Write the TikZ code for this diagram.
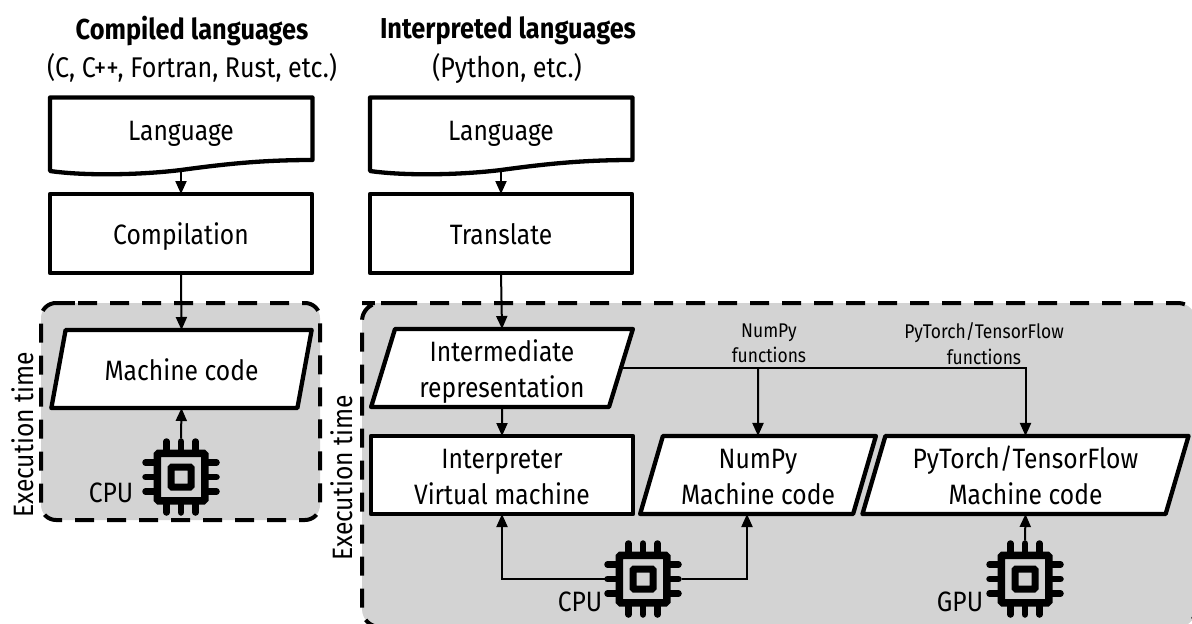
\documentclass[tikz,border=0pt]{standalone}
\usepackage{fontspec}
\setmainfont[FakeStretch=0.88]{Fira Sans}
\usetikzlibrary{arrows.meta,shapes.geometric}
\definecolor{regiongray}{HTML}{D3D3D3}
\tikzset{
  x=1pt,y=-1pt,
  txt/.style={font=\fontsize{28}{36}\selectfont,align=center,inner sep=0pt,outer sep=0pt,
    execute at begin node={\rule{0pt}{30pt}},execute at end node={\rule[-8pt]{0pt}{8pt}}},
  twolines/.style={execute at begin node={\rule{0pt}{66pt}}},
  small/.style={font=\fontsize{19.8}{25.5}\selectfont,align=center,inner sep=0pt},
  head/.style={font=\fontsize{28.8}{30}\selectfont\bfseries,inner sep=0pt},
  sub/.style={font=\fontsize{28.5}{30}\selectfont,inner sep=0pt},
  plainbox/.style={txt,draw=black,fill=white,line width=4.3pt,minimum height=78pt,line join=round},
  para/.style={plainbox,trapezium,trapezium left angle=76,trapezium right angle=104,trapezium stretches=true},
  region/.style={draw=black,fill=regiongray,line width=4pt,rounded corners=18pt,dash pattern=on 19pt off 13pt},
  conn/.style={draw=black,line width=2pt,-{Triangle[length=13pt,width=11pt]}},
  chip/.pic={
    \foreach \p in {-14.5,0,14.5}{
      \draw[line width=6.5pt,line cap=round] (-35.5,\p) -- (35.5,\p);
      \draw[line width=6.5pt,line cap=round] (\p,-35.5) -- (\p,35.5);
    }
    \draw[line width=7.5pt,rounded corners=1.5pt,fill=regiongray] (-23.75,-23.75) rectangle (23.75,23.75);
    \draw[line width=7pt,rounded corners=1pt,fill=regiongray] (-10,-10) rectangle (10,10);
    \node[minimum size=77pt,inner sep=0pt,outer sep=0pt] (box) at (0,0) {};
  },
}
\begin{document}
\begin{tikzpicture}
\useasboundingbox (0,0) rectangle (1192,624);
% regions
\draw[region,rounded corners=15pt] (63,303) -- (320,303) -- (320,520) -- (41,520) -- (41,303) -- cycle;
\draw[region] (380,303) -- (1196,303) -- (1196,627) -- (362,627) -- (362,303) -- cycle;
% headings
\node[head] (h1) at (192,31) {Compiled languages};
\node[sub] (s1) at (192,68) {(C, C++, Fortran, Rust, etc.)};
\node[head] (h2) at (508,31) {Interpreted languages};
\node[sub] (s2) at (507,68) {(Python, etc.)};
% document shapes
\draw[line width=4.3pt,fill=white,line join=round] (50,97.5) -- (312.5,97.5) -- (312.5,160) .. controls (262,160) and (225,164) .. (181,170) .. controls (140,175) and (85,176) .. (50,171) -- cycle;
\draw[line width=4.3pt,fill=white,line join=round] (370,97.5) -- (632.5,97.5) -- (632.5,160) .. controls (582,160) and (545,164) .. (501,170) .. controls (460,175) and (405,176) .. (370,171) -- cycle;
\node[txt,minimum width=262pt,minimum height=74pt] (lang1) at (181,129) {Language};
\node[txt,minimum width=262pt,minimum height=74pt] (lang2) at (501,129) {Language};
% boxes
\node[plainbox,minimum width=262pt,minimum height=79pt] (comp) at (181,233.5) {Compilation};
\node[plainbox,minimum width=262pt,minimum height=79pt] (trans) at (501,233.5) {Translate};
\node[para,minimum width=261pt] (mc) at (181.5,369) {Machine code};
\node[para,twolines,minimum width=262pt] (ir) at (502,368) {Intermediate\\representation};
\node[plainbox,twolines,minimum width=262pt] (vm) at (502,475) {Interpreter\\Virtual machine};
\node[para,twolines,minimum width=236pt] (np) at (758,475) {NumPy\\Machine code};
\node[para,twolines,minimum width=327pt] (pt) at (1025.5,475) {PyTorch/TensorFlow\\Machine code};
% chips
\pic (c1) at (181,477) {chip};
\pic (c2) at (643,579) {chip};
\pic (c3) at (1025,579) {chip};
% labels
\node[txt] (l1) at (111,491) {CPU};
\node[txt] (l2) at (580,600) {CPU};
\node[txt] (l3) at (960,600) {GPU};
\node[txt,rotate=90] (e1) at (22,435) {Execution time};
\node[txt,rotate=90] (e2) at (341,478) {Execution time};
\node[small] (f1) at (769,343.5) {NumPy\\functions};
\node[small] (f2) at (984,343.5) {PyTorch/TensorFlow\\functions};
% connectors
\coordinate (lang1out) at (181,171);
\coordinate (lang2out) at (501,171);
\coordinate (npin) at (747,514);
\coordinate (branch1) at (758,368);
\draw[conn] (lang1out) -- (comp.north);
\draw[conn] (lang2out) -- (trans.north);
\draw[conn] (comp.south) -- (mc.north);
\draw[conn] (trans.south) -- (ir.north);
\draw[conn] (ir.south) -- (vm.north);
\draw[conn] (c1box.north) -- (mc.south);
\draw[conn] (c3box.north) -- (pt.south);
\draw[conn] (c2box.west) -| (vm.south);
\draw[conn] (c2box.east) -| (npin);
\draw[conn] (ir.east) -| (pt.north);
\draw[conn] (branch1) -- (np.north);
\end{tikzpicture}
\end{document}
